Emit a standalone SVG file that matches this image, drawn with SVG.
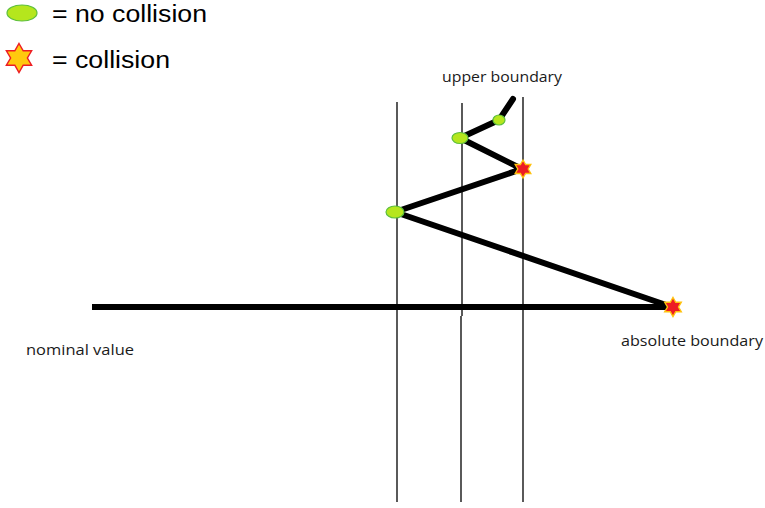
<svg xmlns="http://www.w3.org/2000/svg" width="765" height="508" viewBox="0 0 765 508">
<style>
.v{stroke:#000;stroke-width:1.3;fill:none}
.path{stroke:#000;stroke-width:6;fill:none;stroke-linejoin:round;stroke-linecap:round}
.ok{fill:#b5e61d;stroke:#5cbf3c;stroke-width:1.2}
.hit{fill:#ed1c24;stroke:#ffc20e;stroke-width:1.5}
.lg{font-family:"Liberation Sans",Arial,sans-serif;font-size:23px;fill:#000}
.lb{font-family:"Open Sans","Liberation Sans",sans-serif;font-size:15px;fill:#1a1a1a}
</style>
<defs>
<polygon id="star" points="0,-10 2.9,-5 8.7,-5 5.8,0 8.7,5 2.9,5 0,10 -2.9,5 -8.7,5 -5.8,0 -8.7,-5 -2.9,-5"/>
</defs>
<rect width="765" height="508" fill="#fff"/>
<g id="legend">
<ellipse cx="22" cy="13" rx="15" ry="8" class="ok"/>
<text x="52" y="22" class="lg" textLength="155" lengthAdjust="spacingAndGlyphs">= no collision</text>
<use href="#star" transform="translate(19,58) scale(1.45)" fill="#ffc90e" stroke="#ed1c24" stroke-width="1"/>
<text x="52" y="68" class="lg" textLength="118" lengthAdjust="spacingAndGlyphs">= collision</text>
</g>
<g id="connectors">
<line x1="397" y1="102" x2="397" y2="502" class="v"/>
<line x1="462" y1="103" x2="462" y2="316" class="v"/>
<line x1="461" y1="316" x2="461" y2="502" class="v"/>
<line x1="523" y1="97" x2="523" y2="502" class="v"/>
<line x1="92" y1="307" x2="672" y2="307" stroke="#000" stroke-width="6"/>
<polyline points="513,99 499,120 460,138 522,169 395,212 672,307" class="path"/>
</g>
<g id="node-p1"><ellipse cx="499" cy="120" rx="6" ry="5" class="ok"/></g>
<g id="node-p2"><ellipse cx="460" cy="138" rx="8" ry="5.5" class="ok"/></g>
<g id="node-p3"><use href="#star" transform="translate(523,169) scale(0.9)" class="hit"/></g>
<g id="node-p4"><ellipse cx="395" cy="212" rx="9" ry="6" class="ok"/></g>
<g id="node-p5"><use href="#star" transform="translate(673,307) scale(0.95)" class="hit"/></g>
<g id="labels">
<text x="442" y="82" class="lb" textLength="120" lengthAdjust="spacingAndGlyphs">upper boundary</text>
<text x="621" y="346" class="lb" textLength="142" lengthAdjust="spacingAndGlyphs">absolute boundary</text>
<text x="26" y="355" class="lb" textLength="108" lengthAdjust="spacingAndGlyphs">nominal value</text>
</g>
</svg>
